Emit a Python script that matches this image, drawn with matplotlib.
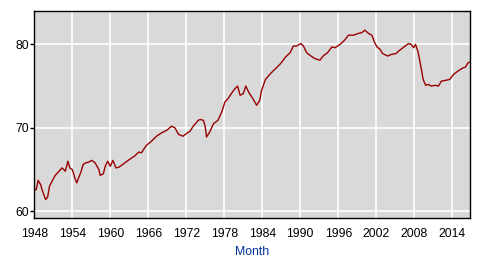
import matplotlib
matplotlib.use("Agg")
import matplotlib.pyplot as plt

# readings (decimal year, percent)
years = [
    1948.0, 1948.3, 1948.6, 1949.0, 1949.3, 1949.8, 1950.1, 1950.4, 1950.8,
    1951.3, 1951.9, 1952.4, 1952.9, 1953.3, 1953.6, 1954.0, 1954.4, 1954.7,
    1955.0, 1955.4, 1955.7, 1956.1, 1956.6, 1957.1, 1957.6, 1958.2, 1958.4,
    1958.9, 1959.2, 1959.6, 1960.0, 1960.4, 1960.9, 1961.4, 1962.3, 1963.0,
    1963.8, 1964.5, 1964.9, 1965.7, 1966.5, 1967.3, 1968.1, 1968.9, 1969.7,
    1970.2, 1970.8, 1971.5, 1972.0, 1972.6, 1973.1, 1973.9, 1974.2, 1974.7,
    1975.0, 1975.2, 1975.7, 1976.3, 1977.0, 1977.6, 1978.1, 1978.6, 1979.2,
    1979.7, 1980.1, 1980.5, 1981.0, 1981.4, 1981.9, 1982.6, 1983.1, 1983.6,
    1983.9, 1984.5, 1985.3, 1986.1, 1986.9, 1987.7, 1988.4, 1988.9, 1989.4,
    1990.1, 1990.5, 1991.0, 1991.7, 1992.3, 1993.1, 1993.6, 1994.3, 1995.0,
    1995.5, 1996.3, 1997.0, 1997.6, 1998.4, 1999.1, 1999.7, 2000.2, 2000.8,
    2001.3, 2001.7, 2002.1, 2002.6, 2003.0, 2003.8, 2004.4, 2005.1, 2005.7,
    2006.4, 2007.1, 2007.5, 2007.9, 2008.2, 2008.6, 2008.9, 2009.2, 2009.4,
    2009.8, 2010.2, 2010.7, 2011.3, 2011.8, 2012.3, 2013.0, 2013.6, 2014.2,
    2014.9, 2015.5, 2016.1, 2016.5, 2016.8,
]
ratio = [
    62.5, 62.6, 63.7, 63.2, 62.4, 61.4, 61.7, 63.0, 63.6,
    64.3, 64.8, 65.2, 64.8, 66.0, 65.2, 65.0, 64.0, 63.4,
    64.0, 64.8, 65.6, 65.8, 65.9, 66.1, 65.8, 65.0, 64.3,
    64.5, 65.4, 66.0, 65.4, 66.1, 65.2, 65.3, 65.8, 66.2,
    66.6, 67.1, 67.0, 67.9, 68.4, 69.0, 69.4, 69.7, 70.2,
    70.0, 69.2, 69.0, 69.3, 69.6, 70.2, 70.9, 71.0, 70.9,
    70.1, 68.9, 69.5, 70.5, 70.9, 71.9, 73.1, 73.5, 74.2,
    74.7, 75.0, 73.9, 74.1, 75.0, 74.2, 73.4, 72.7, 73.3,
    74.5, 75.8, 76.5, 77.1, 77.7, 78.5, 79.0, 79.8, 79.8,
    80.1, 79.8, 79.0, 78.6, 78.3, 78.1, 78.6, 79.0, 79.7,
    79.6, 80.0, 80.5, 81.1, 81.1, 81.3, 81.4, 81.7, 81.3,
    81.1, 80.3, 79.7, 79.4, 78.9, 78.6, 78.8, 78.9, 79.3,
    79.7, 80.1, 80.0, 79.6, 80.0, 79.1, 77.9, 76.7, 75.8,
    75.1, 75.2, 75.0, 75.1, 75.0, 75.6, 75.7, 75.8, 76.4,
    76.8, 77.1, 77.3, 77.8, 77.9,
]
tick_years = [1948, 1954, 1960, 1966, 1972, 1978, 1984, 1990, 1996, 2002, 2008, 2014]
tick_values = [60, 70, 80]

plt.rcParams["font.family"] = ["Liberation Sans", "DejaVu Sans"]

fig = plt.figure(figsize=(4.88, 2.74), dpi=100)
ax = fig.add_axes([0.0703, 0.2033, 0.8928, 0.7566])
ax.set_facecolor("#d9d9d9")

ax.plot(years, ratio, color="#990000", linewidth=1.0)

ax.set_xlim(1948, 2016.8)
ax.set_ylim(59.16, 84)
ax.set_xticks(tick_years)
ax.set_xticklabels([str(y) for y in tick_years])
ax.set_yticks(tick_values)

ax.grid(True, color="white", linewidth=1.2)
ax.set_axisbelow(True)
for s in ax.spines.values():
    s.set_color("black")
    s.set_linewidth(1.0)

ax.tick_params(axis="x", length=0, pad=7, labelsize=8.8, colors="black")
ax.tick_params(axis="y", length=3, width=1, pad=0.8, labelsize=8.8, colors="black")

ax.set_xlabel("Month", color="#003399", fontsize=8.8, labelpad=4)

fig.savefig("out.png", dpi=100)
